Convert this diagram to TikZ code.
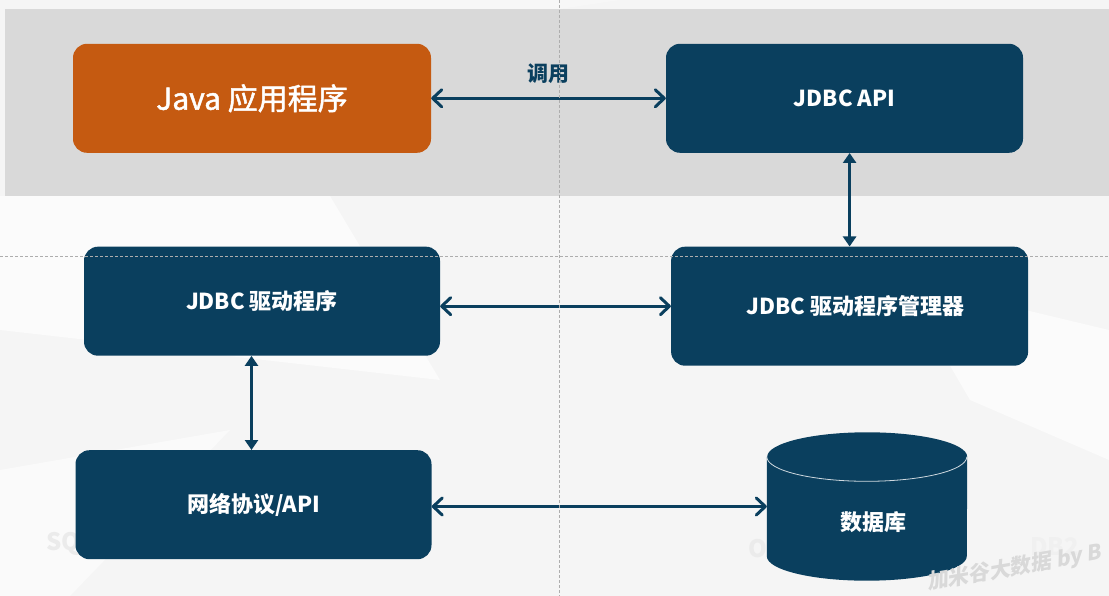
\documentclass[tikz,border=0pt]{standalone}
\usepackage{fontspec}
\setmainfont{Noto Sans CJK SC}
\newfontfamily\wmfont{Noto Sans CJK SC}[FakeSlant=0.2]
\newfontfamily\javafont{Noto Sans CJK SC}[FakeBold=1.6]
\usetikzlibrary{arrows.meta,calc}
\definecolor{dblue}{HTML}{0A3F5E}
\definecolor{orng}{HTML}{C55A11}
\definecolor{bandgray}{HTML}{D9D9D9}
\definecolor{bgbase}{HTML}{F5F5F5}
\begin{document}
\begin{tikzpicture}[x=1pt,y=1pt,
  box/.style={rectangle, rounded corners=14pt, fill=dblue, text=white,
    font=\bfseries\fontsize{22}{26}\selectfont, inner sep=0pt},
  harr/.style={draw=dblue, line width=3pt, line cap=round,
    {Straight Barb[length=9pt,width=17pt,round]}-{Straight Barb[length=9pt,width=17pt,round]}},
  varr/.style={draw=dblue, line width=3pt,
    {Triangle[length=10pt,width=13pt]}-{Triangle[length=10pt,width=13pt]}},
  guide/.style={draw=black!32, line width=0.7pt, dash pattern=on 3pt off 2pt},
  facet/.style={draw=none},
  wm/.style={text=black!8, font=\bfseries\fontsize{24}{28}\selectfont, inner sep=0pt}]
% background
\useasboundingbox (0,0) rectangle (1109,-596);
\fill[bgbase] (0,0) rectangle (1109,-596);
\fill[facet, fill=white!60!bgbase] (0,-196) -- (330,-196) -- (440,-380) -- (0,-330) -- cycle;
\fill[facet, fill=black!4] (330,-430) -- (560,-380) -- (760,-330) -- (600,-596) -- (260,-596) -- cycle;
\fill[facet, fill=white!50!bgbase] (0,-470) -- (230,-430) -- (70,-596) -- (0,-596) -- cycle;
\fill[facet, fill=black!4] (640,-196) -- (1109,-196) -- (1109,-330) -- (900,-280) -- cycle;
\fill[facet, fill=white!60!bgbase] (900,-280) -- (1109,-330) -- (1109,-460) -- (970,-400) -- cycle;
\fill[facet, fill=black!3] (300,0) -- (620,0) -- (560,-9) -- (300,-9) -- cycle;
% faint logo texts behind
\node[wm, anchor=west] (sqltxt) at (46,-544) {SQL Server};
\node[wm, anchor=west] (oratxt) at (748,-548) {Oracle};
\node[wm, anchor=west, text=black!6] (dbtxt) at (1030,-547) {DB2};
% gray band
\fill[bandgray] (4.6,-9) rectangle (1109,-195.7);
% nodes
\node[box, fill=orng, font=\javafont\fontsize{30}{34}\selectfont, minimum width=358pt, minimum height=109pt] (java) at (252,-98.3) {\raisebox{1.5pt}{Java 应用程序}};
\node[box, minimum width=357pt, minimum height=109pt] (api) at (844.5,-98.3) {JDBC API};
\node[box, minimum width=356pt, minimum height=109pt] (driver) at (262,-301.2) {JDBC 驱动程序};
\node[box, minimum width=357pt, minimum height=119pt] (manager) at (849.6,-306.2) {\hspace*{12pt}JDBC 驱动程序管理器};
\node[box, minimum width=356pt, minimum height=109pt] (network) at (253.5,-504.7) {网络协议/API};
% database cylinder
\node[inner sep=0pt, minimum width=200pt, minimum height=99pt] (db) at (867,-506.5) {};
\fill[dblue] (db.north west) -- (db.south west)
  arc[start angle=180, end angle=360, x radius=100pt, y radius=24.5pt]
  -- (db.north east)
  arc[start angle=0, end angle=180, x radius=100pt, y radius=24.5pt] -- cycle;
\draw[white!80!dblue, line width=0.8pt] (db.north west)
  arc[start angle=180, end angle=360, x radius=100pt, y radius=24.5pt];
\node[text=white, font=\bfseries\fontsize{22}{26}\selectfont] (dblabel) at (873,-522) {数据库};
% connectors
\draw[harr] (java.east) -- (api.west)
  node[midway, above=10pt, text=dblue, font=\bfseries\fontsize{21}{24}\selectfont] (call) {调用};
\draw[varr] (manager.north |- api.south) -- (manager.north);
\draw[harr] (driver.east |- manager.west) -- (manager.west);
\coordinate (nn) at ([xshift=-2pt]network.north);
\draw[varr] (driver.south -| nn) -- (nn);
\draw[harr] (network.east |- db.west) -- (db.west);
% watermark
\node[anchor=base west, rotate=10, text=black!15, inner sep=0pt,
  font=\wmfont\bfseries\fontsize{21}{24}\selectfont] (wmark) at (928,-590) {加米谷大数据 by B};
% guides
\draw[guide] (0,-256.7) -- (1109,-256.7);
\draw[guide] (559.5,0) -- (559.5,-596);
\end{tikzpicture}
\end{document}
